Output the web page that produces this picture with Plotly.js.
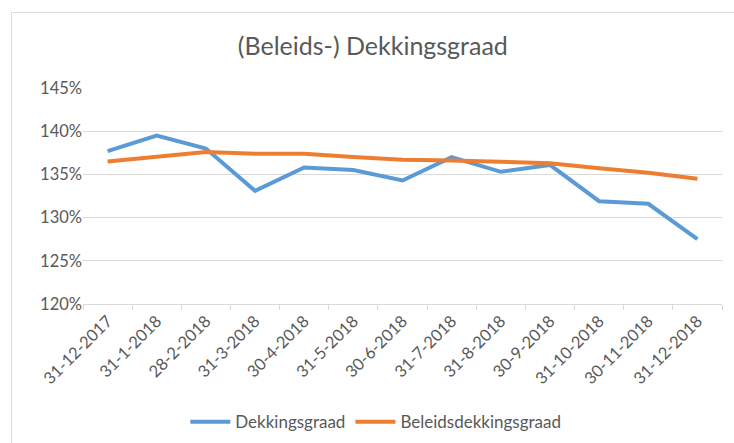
<!DOCTYPE html>
<html>
<head>
<meta charset="utf-8">
<script src="https://cdn.plot.ly/plotly-3.0.1.min.js"></script>
<style>
html,body{margin:0;padding:0;background:#fff;}
#wrap{position:relative;width:734px;height:443px;overflow:hidden;}
#chart{width:734px;height:443px;}
#frame{position:absolute;left:11px;top:12px;width:740px;height:460px;border-left:1.5px solid #dcdcdc;border-top:1.5px solid #dcdcdc;pointer-events:none;}
</style>
</head>
<body>
<div id="wrap"><div id="chart"></div><div id="frame"></div></div>
<script>
var categories = ["31-12-2017","31-1-2018","28-2-2018","31-3-2018","30-4-2018","31-5-2018","30-6-2018","31-7-2018","31-8-2018","30-9-2018","31-10-2018","30-11-2018","31-12-2018"];
var dekkingsgraad = [137.7,139.5,138.0,133.1,135.8,135.5,134.3,137.0,135.3,136.1,131.9,131.6,127.5];
var beleidsdekkingsgraad = [136.5,137.1,137.6,137.4,137.4,137.0,136.7,136.6,136.5,136.3,135.7,135.2,134.5];
var yTicks = [120,125,130,135,140,145];

var font = "Lato, 'Open Sans', sans-serif";
var traces = [
  {x: categories, y: dekkingsgraad, name: "Dekkingsgraad", type: "scatter", mode: "lines",
   line: {color: "#5B9BD5", width: 4}},
  {x: categories, y: beleidsdekkingsgraad, name: "Beleidsdekkingsgraad", type: "scatter", mode: "lines",
   line: {color: "#ED7D31", width: 4}}
];
var layout = {
  width: 734, height: 443,
  margin: {l: 83, r: 12, t: 88, b: 139},
  paper_bgcolor: "#fff", plot_bgcolor: "#fff",
  font: {family: font, color: "#595959", size: 16},
  title: {text: "(Beleids-) Dekkingsgraad", font: {family: font, size: 25, color: "#595959"}, x: 0.508, xanchor: "center", y: 0.895, yanchor: "middle"},
  xaxis: {type: "category", tickson: "boundaries", ticks: "outside", ticklen: 5, tickcolor: "#d9d9d9",
          showline: true, linecolor: "#d9d9d9", linewidth: 1, showgrid: false, tickangle: -45,
          tickfont: {size: 16.5, color: "#595959"}, range: [-0.5, 12.5], fixedrange: true},
  yaxis: {range: [120, 145], tickvals: yTicks, ticktext: yTicks.map(function(v){return v + "%";}),
          showgrid: true, gridcolor: "#d9d9d9", gridwidth: 1, zeroline: false, showline: false,
          ticks: "", tickfont: {size: 16.5, color: "#595959"}, fixedrange: true},
  showlegend: true,
  legend: {orientation: "h", xref: "container", yref: "container", x: 0.512, xanchor: "center", y: 0.047, yanchor: "middle",
           font: {size: 17, color: "#595959"}, itemwidth: 40, traceorder: "normal"}
};
Plotly.newPlot("chart", traces, layout, {displayModeBar: false, staticPlot: true});
</script>
</body>
</html>
